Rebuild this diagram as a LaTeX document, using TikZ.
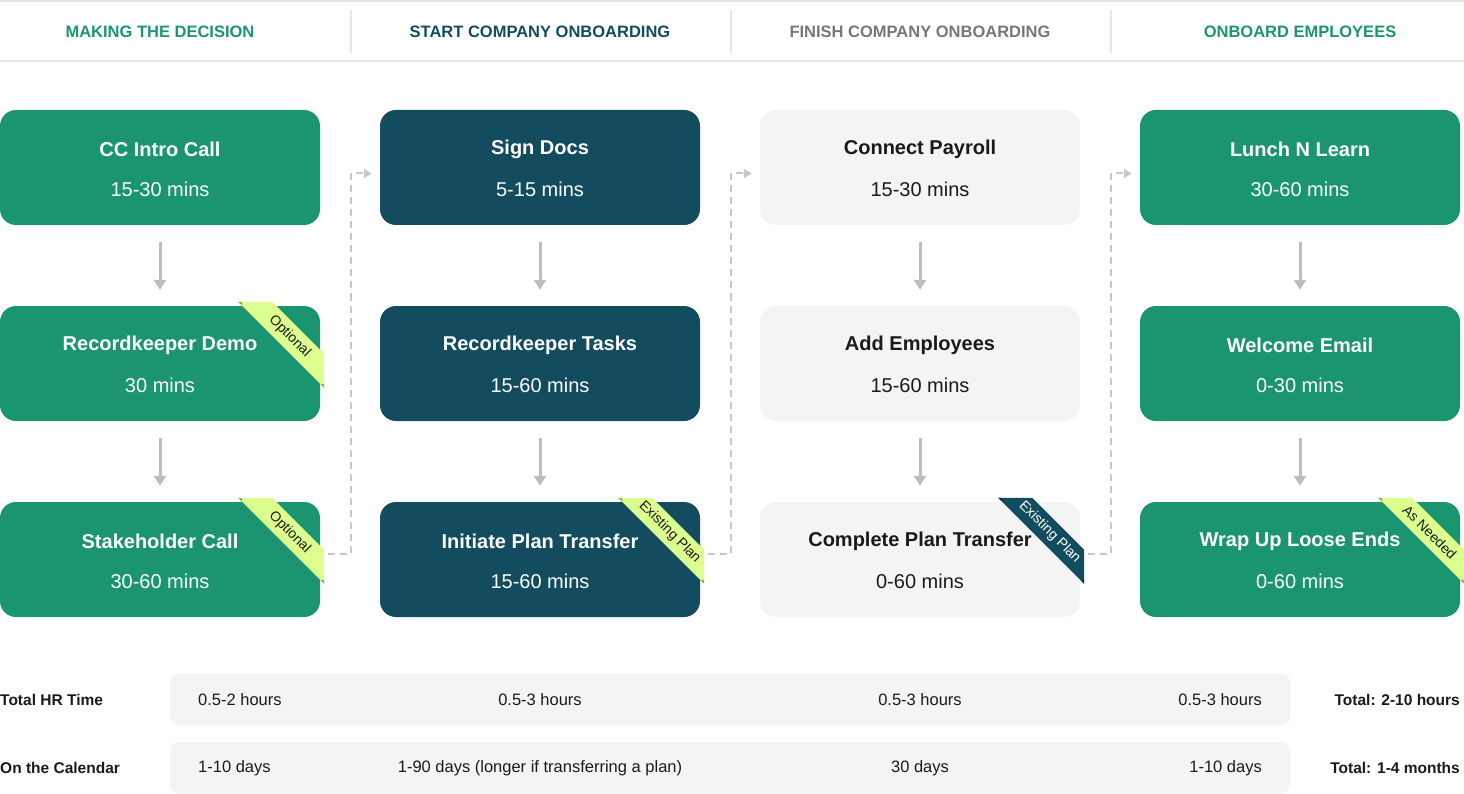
\documentclass[tikz,border=0pt]{standalone}
\usepackage{fontspec}
\setmainfont{Liberation Sans}
\usetikzlibrary{arrows.meta,positioning,calc}
\definecolor{ccgreen}{HTML}{1B9470}
\definecolor{ccteal}{HTML}{124C5E}
\definecolor{ccpale}{HTML}{F3F4F4}
\definecolor{ccink}{HTML}{1A1A1A}
\definecolor{ccmute}{HTML}{777777}
\definecolor{cclime}{HTML}{DDFF8F}
\definecolor{cclimefold}{HTML}{8DB43A}
\definecolor{cctealfold}{HTML}{0B3340}
\definecolor{ccarrow}{HTML}{BDBDBD}
\definecolor{ccdash}{HTML}{C8C8C8}
\definecolor{ccrule}{HTML}{E4E7E7}
\definecolor{ccrow}{HTML}{F3F5F5}
% corner ribbon on a card: node, band colour, fold colour, text colour, text
\newcommand{\cornertag}[5]{%
  \fill[#2] ([shift={(-82,-4)}]#1.north east) -- ([shift={(-48,-4)}]#1.north east)
    -- ([shift={(4,48)}]#1.north east) -- ([shift={(4,82)}]#1.north east) -- cycle;
  \fill[#3] ([shift={(-82,-4)}]#1.north east) -- ([shift={(-78,-4)}]#1.north east)
    -- ([shift={(-78,0)}]#1.north east) -- cycle;
  \fill[#3] ([shift={(4,82)}]#1.north east) -- ([shift={(4,78)}]#1.north east)
    -- ([shift={(0,78)}]#1.north east) -- cycle;
  \node[tagtext, text=#4] (#1tag) at ([shift={(-30.5,30.5)}]#1.north east) {#5};}
\begin{document}
\begin{tikzpicture}[x=1pt,y=-1pt,
  card/.style={rounded corners=16pt, minimum width=320pt, minimum height=115pt, inner sep=0pt},
  cardtitle/.style={font=\fontsize{20}{24}\selectfont\bfseries},
  cardtime/.style={font=\fontsize{20}{24}\selectfont},
  phase/.style={font=\fontsize{16.5}{20}\selectfont\bfseries},
  tagtext/.style={rotate=-45, inner sep=0pt, font=\fontsize{14}{16}\selectfont},
  rowbox/.style={fill=ccrow, rounded corners=8pt, minimum width=1120pt, minimum height=51pt, inner sep=0pt},
  rowlabel/.style={font=\fontsize{15.5}{18}\selectfont\bfseries, text=ccink, inner sep=0pt},
  rowtext/.style={font=\fontsize{16.5}{20}\selectfont, text=ccink, inner sep=0pt},
  steparrow/.style={ccarrow, line width=3pt, -{Triangle[length=10pt,width=12pt]}, shorten <=17pt, shorten >=16pt},
  handoff/.style={ccdash, line width=2pt, dash pattern=on 7pt off 5pt, -{Triangle[length=8pt,width=9pt]}},
  rule/.style={ccrule, line width=2pt}]
\useasboundingbox (0,0) rectangle (1464,794);

% header
\draw[rule] (0,1) -- (1464,1);
\draw[rule] (0,61) -- (1464,61);
\draw[rule] (351,10) -- (351,53);
\draw[rule] (731,10) -- (731,53);
\draw[rule] (1111,10) -- (1111,53);
\node[phase, text=ccgreen] (ph1) at (160,32) {MAKING THE DECISION};
\node[phase, text=ccteal] (ph2) at (540,32) {START COMPANY ONBOARDING};
\node[phase, text=ccmute] (ph3) at (920,32) {FINISH COMPANY ONBOARDING};
\node[phase, text=ccgreen] (ph4) at (1300,32) {ONBOARD EMPLOYEES};

% cards
\node[card, fill=ccgreen] (intro) at (160,167.5) {};
\node[card, fill=ccgreen] (demo) at (160,363.5) {};
\node[card, fill=ccgreen] (stake) at (160,559.5) {};
\node[card, fill=ccteal] (docs) at (540,167.5) {};
\node[card, fill=ccteal] (tasks) at (540,363.5) {};
\node[card, fill=ccteal] (initiate) at (540,559.5) {};
\node[card, fill=ccpale] (payroll) at (920,167.5) {};
\node[card, fill=ccpale] (employees) at (920,363.5) {};
\node[card, fill=ccpale] (complete) at (920,559.5) {};
\node[card, fill=ccgreen] (lunch) at (1300,167.5) {};
\node[card, fill=ccgreen] (welcome) at (1300,363.5) {};
\node[card, fill=ccgreen] (wrapup) at (1300,559.5) {};

\node[cardtitle, white] at ([yshift=-40pt]intro.north) {CC Intro Call};
\node[cardtime, white] at ([yshift=-80pt]intro.north) {15-30 mins};
\node[cardtitle, white] at ([yshift=-40pt]demo.north) {Recordkeeper Demo};
\node[cardtime, white] at ([yshift=-80pt]demo.north) {30 mins};
\node[cardtitle, white] at ([yshift=-40pt]stake.north) {Stakeholder Call};
\node[cardtime, white] at ([yshift=-80pt]stake.north) {30-60 mins};
\node[cardtitle, white] at ([yshift=-40pt]docs.north) {Sign Docs};
\node[cardtime, white] at ([yshift=-80pt]docs.north) {5-15 mins};
\node[cardtitle, white] at ([yshift=-40pt]tasks.north) {Recordkeeper Tasks};
\node[cardtime, white] at ([yshift=-80pt]tasks.north) {15-60 mins};
\node[cardtitle, white] at ([yshift=-40pt]initiate.north) {Initiate Plan Transfer};
\node[cardtime, white] at ([yshift=-80pt]initiate.north) {15-60 mins};
\node[cardtitle, ccink] at ([yshift=-40pt]payroll.north) {Connect Payroll};
\node[cardtime, ccink] at ([yshift=-80pt]payroll.north) {15-30 mins};
\node[cardtitle, ccink] at ([yshift=-40pt]employees.north) {Add Employees};
\node[cardtime, ccink] at ([yshift=-80pt]employees.north) {15-60 mins};
\node[cardtitle, ccink] at ([yshift=-40pt]complete.north) {Complete Plan Transfer};
\node[cardtime, ccink] at ([yshift=-80pt]complete.north) {0-60 mins};
\node[cardtitle, white] at ([yshift=-40pt]lunch.north) {Lunch N Learn};
\node[cardtime, white] at ([yshift=-80pt]lunch.north) {30-60 mins};
\node[cardtitle, white] at ([yshift=-40pt]welcome.north) {Welcome Email};
\node[cardtime, white] at ([yshift=-80pt]welcome.north) {0-30 mins};
\node[cardtitle, white] at ([yshift=-40pt]wrapup.north) {Wrap Up Loose Ends};
\node[cardtime, white] at ([yshift=-80pt]wrapup.north) {0-60 mins};

% ribbons
\cornertag{demo}{cclime}{cclimefold}{ccink}{Optional}
\cornertag{stake}{cclime}{cclimefold}{ccink}{Optional}
\cornertag{initiate}{cclime}{cclimefold}{ccink}{Existing Plan}
\cornertag{complete}{ccteal}{cctealfold}{white}{Existing Plan}
\cornertag{wrapup}{cclime}{cclimefold}{ccink}{As Needed}

% steps within a phase
\draw[steparrow] (intro) -- (demo);
\draw[steparrow] (demo) -- (stake);
\draw[steparrow] (docs) -- (tasks);
\draw[steparrow] (tasks) -- (initiate);
\draw[steparrow] (payroll) -- (employees);
\draw[steparrow] (employees) -- (complete);
\draw[steparrow] (lunch) -- (welcome);
\draw[steparrow] (welcome) -- (wrapup);

% hand-offs between phases
\draw[handoff] ([xshift=8pt,yshift=6pt]stake.east) -- ++(23,0) |- ([xshift=-8pt,yshift=-6pt]docs.west);
\draw[handoff] ([xshift=8pt,yshift=6pt]initiate.east) -- ++(23,0) |- ([xshift=-8pt,yshift=-6pt]payroll.west);
\draw[handoff] ([xshift=8pt,yshift=6pt]complete.east) -- ++(23,0) |- ([xshift=-8pt,yshift=-6pt]lunch.west);

% time summary
\node[rowbox] (hrrow) at (730,699.5) {};
\node[rowbox] (calrow) at (730,767.5) {};
\node[rowlabel, anchor=west] (hrlabel) at (0,700) {Total HR Time};
\node[rowlabel, anchor=west] (callabel) at (0,768) {On the Calendar};
\node[rowtext, anchor=west] at (198,700) {0.5-2 hours};
\node[rowtext] at (540,700) {0.5-3 hours};
\node[rowtext] at (920,700) {0.5-3 hours};
\node[rowtext, anchor=east] at (1262,700) {0.5-3 hours};
\node[rowtext, anchor=west] at (198,768) {1-10 days};
\node[rowtext] at (540,768) {1-90 days (longer if transferring a plan)};
\node[rowtext] at (920,768) {30 days};
\node[rowtext, anchor=east] at (1262,768) {1-10 days};
\node[rowlabel, anchor=east] (hrtotal) at (1460,700) {Total: 2-10 hours};
\node[rowlabel, anchor=east] (caltotal) at (1460,768) {Total: 1-4 months};
\end{tikzpicture}
\end{document}
